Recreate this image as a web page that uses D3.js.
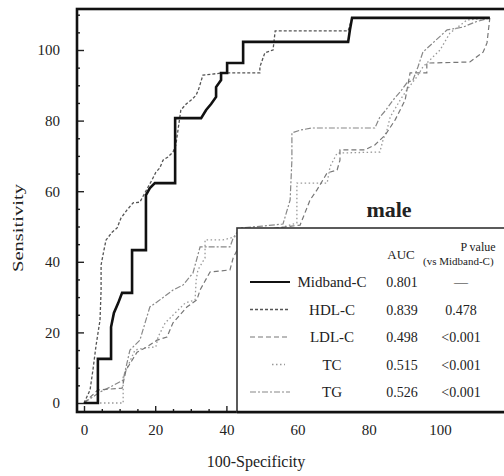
<!DOCTYPE html>
<html>
<head>
<meta charset="utf-8">
<script src="https://cdn.jsdelivr.net/npm/d3@7"></script>
<style>
  body { margin: 0; background: #fff; }
  svg { display: block; }
  text { font-family: "Liberation Serif", "DejaVu Serif", serif; fill: #222; }
</style>
</head>
<body>
<div class="chart"></div>
<script>
// ROC curves, male subgroup. values (axes in %)
const midbandC = [[0,0],[3.9,0],[3.9,12.5],[7.6,12.5],[7.6,21.5],[8.4,25.5],[9.6,28.3],[10.7,31.2],[13.5,31.2],[13.5,43.3],[17.4,43.3],[17.4,58.9],[18.5,60.9],[19.9,62.3],[25.6,62.3],[25.6,80.7],[32.9,80.7],[34.3,83.0],[35.7,84.7],[37.1,86.7],[37.1,89.5],[38.5,91.5],[38.5,93.5],[40.2,93.5],[40.2,96.3],[44.7,96.3],[44.7,102.3],[74.2,102.3],[74.7,105.7],[75.3,109.1],[114,109.1]]
const hdlC = [[0,0],[1.7,3.7],[2.5,9.3],[3.4,16.4],[4.5,23.5],[4.8,32.0],[4.8,39.1],[5.6,43.3],[6.2,46.2],[7.9,48.4],[9.3,49.6],[10.4,52.4],[12.1,54.7],[13.8,56.7],[15.7,56.9],[17.1,59.5],[18.0,61.2],[19.1,63.2],[20.2,65.4],[21.3,66.6],[22.2,68.8],[23.6,69.7],[25.0,71.1],[25.8,73.1],[26.4,77.3],[27.2,83.0],[28.7,84.7],[30.1,85.8],[31.5,87.2],[32.3,89.2],[33.4,92.9],[39.0,93.5],[49.4,93.5],[49.4,95.2],[50.8,99.2],[53.1,100.0],[53.7,105.4],[74.2,105.4],[75.3,109.1],[114,109.1]]
const ldlC = [[0,0],[3.9,3.7],[10.7,4.2],[11.8,9.3],[14.9,14.4],[17.7,15.9],[20.5,17.8],[23.3,18.7],[25.0,22.7],[28.9,27.2],[31.7,29.2],[32.6,32.0],[35.4,37.1],[41.0,37.7],[41.9,41.1],[43.0,43.3],[44.4,48.4],[60.7,50.4],[63.5,57.5],[65.4,60.3],[66.3,61.8],[68.3,65.2],[71.1,66.0],[71.9,68.8],[71.9,71.7],[78.9,71.7],[81.7,73.1],[84.6,75.9],[87.4,80.2],[90.2,85.8],[91.6,93.5],[96.3,93.5],[96.3,96.3],[108.4,96.6],[112.1,99.4],[113.2,102.0],[114,109.1]]
const tc = [[0,0],[11.0,0],[11.0,7.4],[14.3,15.0],[17.1,15.6],[20.2,15.9],[20.8,18.7],[22.8,22.7],[25.6,25.5],[28.4,28.3],[31.2,29.2],[31.5,34.8],[32.0,37.7],[34.0,41.1],[34.0,46.2],[39.0,46.2],[41.0,46.7],[43.8,47.6],[49.4,48.4],[55.1,49.6],[59.8,51.0],[59.8,62.3],[68.3,62.3],[69.1,66.9],[71.1,70.8],[83.1,71.1],[84.0,74.5],[85.1,77.3],[86.0,81.0],[88.8,85.8],[90.7,88.7],[93.5,92.4],[95.2,95.2],[97.2,97.2],[100,100],[102.8,104.8],[107.6,108.5],[114,109.1]]
const tg = [[0,0],[4.5,3.1],[7.3,4.5],[11.0,6.5],[11.5,8.8],[12.9,15.0],[15.7,17.8],[18.5,27.2],[20.5,28.6],[25.0,32.0],[27.8,33.4],[30.6,36.8],[32.6,44.2],[41.0,44.2],[41.9,46.7],[43.8,49.6],[50.0,50.1],[55.9,50.7],[57.9,57.5],[58.4,68.8],[58.4,76.5],[60.7,77.3],[64.0,77.9],[81.7,77.9],[83.1,81.0],[84.8,83.0],[86.8,85.8],[88.8,88.1],[90.7,90.7],[92.4,91.5],[93.8,95.2],[95.2,99.4],[98.0,102.0],[102.0,105.7],[106.5,106.5],[109.8,107.9],[114,109.1]]

const names = ['Midband-C', 'HDL-C', 'LDL-C', 'TC', 'TG']
const auc = ['0.801', '0.839', '0.498', '0.515', '0.526']
const pValues = ['\u2014', '0.478', '<0.001', '<0.001', '<0.001']
const xTicks = [0, 20, 40, 60, 80, 100]
const yTicks = [0, 20, 40, 60, 80, 100]

const series = [midbandC, hdlC, ldlC, tc, tg]
const styles = [
	{color: '#111', width: 2.6, dash: null},
	{color: '#555', width: 1.3, dash: '3,2'},
	{color: '#777', width: 1.2, dash: '5,3'},
	{color: '#999', width: 1.3, dash: '1.5,2.5'},
	{color: '#888', width: 1.2, dash: '6,2,2,2'}
]

const width = 504
const height = 476
const frame = {left: 77, top: 9, right: 506, bottom: 412}

const svg = d3.select('.chart')
.append('svg')
.attr('width', width)
.attr('height', height)

const x = d3.scaleLinear().domain([0, 100]).range([84, 440])
const y = d3.scaleLinear().domain([0, 100]).range([403, 50])

svg.append('clipPath')
.attr('id', 'plot-clip')
.append('rect')
.attr('x', frame.left)
.attr('y', frame.top)
.attr('width', frame.right - frame.left)
.attr('height', frame.bottom - frame.top)

const line = d3.line()
.x(d => x(d[0]))
.y(d => y(d[1]))

// draw thin curves first, midband on top
const order = [4, 3, 2, 1, 0]
svg.append('g')
.attr('clip-path', 'url(#plot-clip)')
.selectAll('path')
.data(order)
.join('path')
.attr('d', i => line(series[i]))
.attr('fill', 'none')
.attr('stroke', i => styles[i].color)
.attr('stroke-width', i => styles[i].width)
.attr('stroke-dasharray', i => styles[i].dash)
.attr('stroke-linejoin', 'miter')

// minor + major ticks, pointing into the plot
const minorX = d3.range(5, 120, 5).filter(v => v % 20 !== 0)
const minorY = d3.range(5, 115, 5).filter(v => v % 20 !== 0)

svg.append('g')
.attr('transform', `translate(0,${frame.bottom})`)
.call(d3.axisBottom(x).tickValues(minorX).tickSize(-3).tickFormat(''))
.call(g => g.select('.domain').remove())

svg.append('g')
.attr('transform', `translate(${frame.left},0)`)
.call(d3.axisLeft(y).tickValues(minorY).tickSize(-3).tickFormat(''))
.call(g => g.select('.domain').remove())

const xAxis = svg.append('g')
.attr('transform', `translate(0,${frame.bottom})`)
.call(d3.axisBottom(x).tickValues(xTicks).tickSize(-6).tickPadding(12))
.call(g => g.select('.domain').remove())

const yAxis = svg.append('g')
.attr('transform', `translate(${frame.left},0)`)
.call(d3.axisLeft(y).tickValues(yTicks).tickSize(-7).tickPadding(17))
.call(g => g.select('.domain').remove())

svg.selectAll('.tick line').attr('stroke', '#222').attr('stroke-width', 1.4)
svg.selectAll('.tick text')
.attr('font-family', '"Liberation Serif", serif')
.attr('font-size', 15)
.attr('fill', '#222')

// frame
svg.append('rect')
.attr('x', frame.left)
.attr('y', frame.top)
.attr('width', frame.right - frame.left)
.attr('height', frame.bottom - frame.top)
.attr('fill', 'none')
.attr('stroke', '#111')
.attr('stroke-width', 2.6)

// axis titles
svg.append('text')
.attr('x', 256)
.attr('y', 467)
.attr('text-anchor', 'middle')
.attr('font-size', 16)
.text('100-Specificity')

svg.append('text')
.attr('transform', 'translate(23,228) rotate(-90)')
.attr('text-anchor', 'middle')
.attr('font-size', 15)
.attr('textLength', 88)
.attr('lengthAdjust', 'spacingAndGlyphs')
.text('Sensitivity')

// subgroup label
svg.append('text')
.attr('x', 389)
.attr('y', 217)
.attr('text-anchor', 'middle')
.attr('font-family', '"Liberation Sans", Arial, sans-serif')
.attr('font-size', 22)
.attr('font-weight', 'bold')
.attr('fill', '#222')
.text('male')

// legend table
const legend = svg.append('g')

legend.append('rect')
.attr('x', 237)
.attr('y', 228)
.attr('width', 280)
.attr('height', frame.bottom - 228)
.attr('fill', '#fff')
.attr('stroke', '#333')
.attr('stroke-width', 1.6)

// redraw bottom frame edge over the legend box
svg.append('line')
.attr('x1', 237).attr('x2', frame.right)
.attr('y1', frame.bottom).attr('y2', frame.bottom)
.attr('stroke', '#111')
.attr('stroke-width', 2.6)

legend.append('text')
.attr('x', 401)
.attr('y', 259)
.attr('text-anchor', 'middle')
.attr('font-size', 13)
.text('AUC')

legend.append('text')
.attr('x', 478)
.attr('y', 251)
.attr('text-anchor', 'middle')
.attr('font-size', 12)
.text('P value')

legend.append('text')
.attr('x', 423)
.attr('y', 265)
.attr('font-size', 11)
.text('(vs Midband-C)')

const rowY = i => 282 + i * 27.5

const rows = legend.selectAll('g.row')
.data(names)
.join('g')
.attr('class', 'row')

rows.append('line')
.attr('x1', (d, i) => i === 3 ? 272 : 250)
.attr('x2', (d, i) => i === 3 ? 285 : 290)
.attr('y1', (d, i) => rowY(i))
.attr('y2', (d, i) => rowY(i))
.attr('stroke', (d, i) => styles[i].color)
.attr('stroke-width', (d, i) => Math.min(styles[i].width, 1.8))
.attr('stroke-dasharray', (d, i) => styles[i].dash)

rows.append('text')
.attr('x', 332)
.attr('y', (d, i) => rowY(i) + 5)
.attr('text-anchor', 'middle')
.attr('font-size', 15)
.text(d => d)

rows.append('text')
.attr('x', 402)
.attr('y', (d, i) => rowY(i) + 5)
.attr('text-anchor', 'middle')
.attr('font-size', 14)
.text((d, i) => auc[i])

rows.append('text')
.attr('x', 461)
.attr('y', (d, i) => rowY(i) + 5)
.attr('text-anchor', 'middle')
.attr('font-size', 14)
.text((d, i) => pValues[i])
</script>
</body>
</html>
